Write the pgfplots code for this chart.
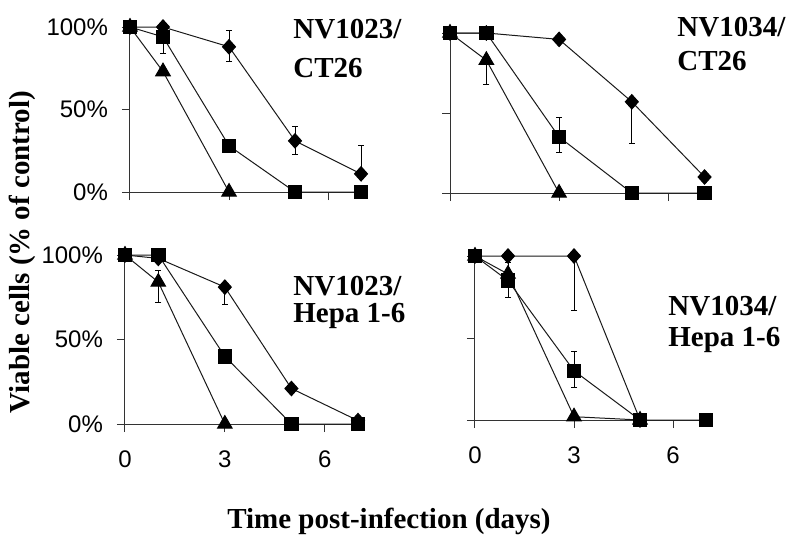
\documentclass[border=0pt]{standalone}
\usepackage{fontspec}
\setmainfont{Liberation Sans}
\newfontfamily\tnr{Liberation Serif}
\usepackage{pgfplots}
\pgfplotsset{compat=1.18}

\pgfplotsset{
  panel/.style={
    scale only axis,
    anchor=south west,
    xmin=0, xmax=7.15, ymin=0, ymax=100,
    axis lines=left,
    axis line style={-, black!80, line width=0.5pt},
    tick align=outside,
    major tick length=4pt,
    tick style={black!80, line width=0.5pt},
    xtick={0,3,6}, ytick={0,50,100},
    xticklabels={}, yticklabels={},
    tick label style={font=\fontsize{12}{14}\selectfont},
    xticklabel style={yshift=-6pt},
    yticklabel style={xshift=-3.5pt},
    clip=false,
  },
  errs/.style={
    error bars/.cd, y dir=both, y explicit,
    error bar style={black, line width=0.5pt},
    error mark options={rotate=90, mark size=1.5pt, black, line width=0.5pt},
  },
  dia/.style={black!90, line width=0.5pt, mark=diamond*, mark size=3.6pt,
    mark options={solid, xscale=1.2, fill=black, draw=black}, errs},
  sq/.style={black!90, line width=0.5pt, mark=square*, mark size=3.4pt,
    mark options={solid, fill=black, draw=black}, errs},
  tri/.style={black!90, line width=0.5pt, mark=triangle*, mark size=4.2pt,
    mark options={solid, fill=black, draw=black}, errs},
}
\newcommand{\ttl}{\tnr\bfseries\fontsize{14.5}{16}\selectfont}

\begin{document}
\begin{tikzpicture}
\useasboundingbox (0,0) rectangle (400pt,-273pt);

% ---- NV1023 / CT26 ----
\begin{axis}[panel, at={(65pt,-96pt)}, width=118pt, height=82.5pt,
  yticklabels={0\%,50\%,100\%}]
\addplot[dia] coordinates {(0,100) (1,100) (3,88) += (0,10) -= (0,9)
  (5,31) += (0,9) -= (0,8) (7,11) += (0,17) -= (0,0)};
\addplot[sq] coordinates {(0,100) (1,94) += (0,0) -= (0,10) (3,28) (5,0) (7,0)};
\addplot[tri] coordinates {(0,100) (1,73) (3,0)};
\end{axis}

% ---- NV1034 / CT26 ----
\begin{axis}[panel, at={(225pt,-96.5pt)}, width=130pt, height=80pt]
\addplot[dia] coordinates {(0,100) (1,100) (3,96) (5,57) += (0,0) -= (0,26) (7,10)};
\addplot[sq] coordinates {(0,100) (1,100) (3,35) += (0,12) -= (0,10) (5,0) (7,0)};
\addplot[tri] coordinates {(0,100) (1,83) += (0,0) -= (0,15) (3,0)};
\end{axis}

% ---- NV1023 / Hepa 1-6 ----
\begin{axis}[panel, at={(62.5pt,-212pt)}, width=119pt, height=84.5pt,
  yticklabels={0\%,50\%,100\%}, xticklabels={0,3,6}]
\addplot[dia] coordinates {(0,100) (1,98) (3,81) += (0,0) -= (0,10) (5,21) (7,2)};
\addplot[sq] coordinates {(0,100) (1,100) (3,40) += (0,2) -= (0,3) (5,0) (7,0)};
\addplot[tri] coordinates {(0,100) (1,84) += (0,7) -= (0,12) (3,0)};
\end{axis}

% ---- NV1034 / Hepa 1-6 ----
\begin{axis}[panel, at={(237.5pt,-210pt)}, width=118pt, height=82pt,
  xticklabels={0,3,6}]
\addplot[dia] coordinates {(0,100) (1,100) (3,100) += (0,0) -= (0,33) (5,0)};
\addplot[sq] coordinates {(0,100) (1,85) += (0,11) -= (0,10)
  (3,30) += (0,12) -= (0,10) (5,0) (7,0)};
\addplot[tri] coordinates {(0,100) (1,89) (3,2) (5,0)};
\end{axis}

% panel titles
\node[anchor=base west, inner sep=0, font=\ttl] at (146.5pt,-19.5pt) {NV1023/};
\node[anchor=base west, inner sep=0, font=\ttl] at (146.5pt,-38.5pt) {CT26};
\node[anchor=base west, inner sep=0, font=\ttl] at (338.5pt,-18.5pt) {NV1034/};
\node[anchor=base west, inner sep=0, font=\ttl] at (338.5pt,-35pt) {CT26};
\node[anchor=base west, inner sep=0, font=\ttl] at (146.5pt,-147.5pt) {NV1023/};
\node[anchor=base west, inner sep=0, font=\ttl] at (146.5pt,-161pt) {Hepa 1-6};
\node[anchor=base west, inner sep=0, font=\ttl] at (334pt,-157.5pt) {NV1034/};
\node[anchor=base west, inner sep=0, font=\ttl] at (334pt,-173pt) {Hepa 1-6};

% axis titles
\node[rotate=90, font=\ttl] at (11pt,-126pt) {Viable cells (\% of control)};
\node[font=\ttl] at (194.5pt,-260.5pt) {Time post-infection (days)};
\end{tikzpicture}
\end{document}
